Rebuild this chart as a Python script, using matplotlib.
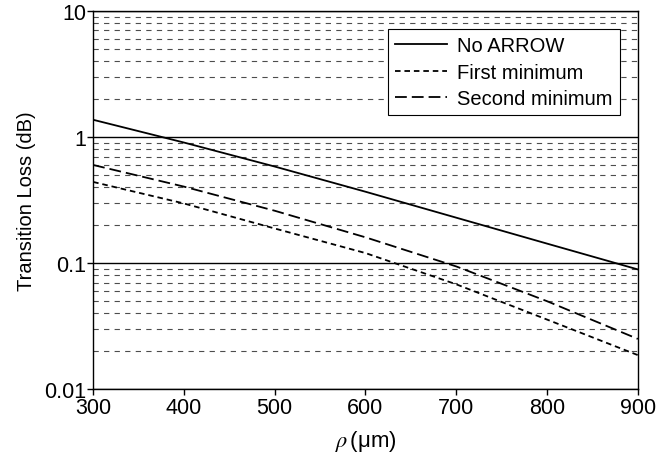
import numpy as np
import matplotlib
matplotlib.use("Agg")
import matplotlib.pyplot as plt
from matplotlib.ticker import LogLocator, FixedLocator, NullFormatter

plt.rcParams['font.family'] = ['Liberation Sans', 'DejaVu Sans']
plt.rcParams['mathtext.fontset'] = 'stix'
plt.rcParams['lines.scale_dashes'] = False

# radius rho (um)
rho = [300, 400, 500, 600, 700, 800, 900]
# transition loss (dB)
no_arrow = [1.37, 0.904, 0.583, 0.368, 0.229, 0.1426, 0.089]
first_min = [0.44, 0.297, 0.188, 0.120, 0.0678, 0.0356, 0.0186]
second_min = [0.60, 0.404, 0.26, 0.160, 0.094, 0.0498, 0.025]

x_ticks = [300, 400, 500, 600, 700, 800, 900]
y_ticks = [0.01, 0.1, 1, 10]
y_ticklabels = ['0.01', '0.1', '1', '10']

fig = plt.figure(figsize=(6.7, 4.6), dpi=100)
ax = fig.add_axes([0.139, 0.152, 0.813, 0.822])

ax.set_yscale('log')
ax.set_xlim(300, 900)
ax.set_ylim(0.01, 10)

# grid: solid at decades, dashed at 2..9
ax.yaxis.set_minor_locator(LogLocator(base=10, subs=np.arange(2, 10)))
ax.yaxis.set_minor_formatter(NullFormatter())
ax.grid(which='minor', axis='y', color='0.3', linestyle=(0, (3.8, 3.8)), linewidth=0.8)
ax.grid(which='major', axis='y', color='black', linestyle='-', linewidth=1.0)
ax.grid(False, axis='x')
ax.set_axisbelow(True)

ax.plot(rho, no_arrow, color='black', linewidth=1.3, label='No ARROW')
ax.plot(rho, first_min, color='black', linewidth=1.3, linestyle=(0, (4.0, 2.8)), label='First minimum')
ax.plot(rho, second_min, color='black', linewidth=1.3, linestyle=(0, (8.5, 3.6)), label='Second minimum')

ax.xaxis.set_major_locator(FixedLocator(x_ticks))
ax.set_xticklabels([str(v) for v in x_ticks])
ax.yaxis.set_major_locator(FixedLocator(y_ticks))
ax.set_yticklabels(y_ticklabels)
ax.tick_params(axis='both', which='major', labelsize=15.5, direction='out', length=4, width=1, pad=1)
ax.tick_params(axis='x', which='major', pad=2)
ax.tick_params(axis='y', which='minor', length=0)
for s in ax.spines.values():
    s.set_linewidth(1.0)

ax.set_ylabel('Transition Loss (dB)', fontsize=14.5, labelpad=6)
ax.set_xlabel(r'$\rho\,$(μm)', fontsize=16, labelpad=7)

leg = ax.legend(loc='upper right', fontsize=14.5, frameon=True, fancybox=False,
                edgecolor='black', framealpha=1, borderaxespad=0.9,
                handlelength=2.6, handletextpad=0.5, labelspacing=0.38,
                borderpad=0.35)
leg.get_frame().set_linewidth(0.8)

fig.savefig('out.png', dpi=100)
